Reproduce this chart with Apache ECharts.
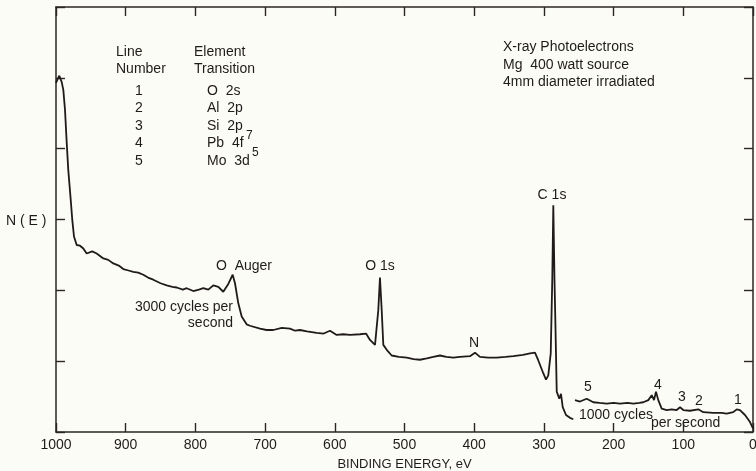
<!DOCTYPE html>
<html><head><meta charset="utf-8">
<script src="https://cdn.jsdelivr.net/npm/echarts@6/dist/echarts.min.js"></script>
<style>html,body{margin:0;padding:0;background:#fcfcf7}#c{width:756px;height:471px}</style>
</head><body><div id="c"></div>
<script>
// Binding energy (eV) and N(E) (arbitrary units, 0-6 frame) — 3000 cycles/s trace
const energyA = [1000,995.3,991.8,989.5,987.1,984.6,982.4,978.9,976.6,974.2,970.3,965.6,960.8,956,948,941.6,932.1,925,917.8,910,903.4,896,889.1,882,874.8,868,860.4,850,841.2,833,826.8,818,812.5,803,795,788.7,781.5,774.3,767.1,760,752.8,746.5,743.2,738.5,733.6,726.5,721.7,707.3,698,688.2,676,664.3,657,649.9,640,626,616,606.9,597.3,588,578.2,563.8,555.2,549.5,542.3,539.9,537.6,535.2,532.7,530.4,525.5,518.4,508,496.8,487,477.8,468,458.7,449.1,440,430,420.4,406,398.9,391.7,380,367.7,355,343.9,330,319.9,312.8,308,300.9,297,293.7,290.2,288,286.5,284.8,283.6,281.6,277.9,275.5,273,268.3,262.6,257.8];
const countsA = [4.93,5.03,4.94,4.83,4.55,4.08,3.70,3.28,2.99,2.76,2.64,2.63,2.59,2.52,2.55,2.52,2.45,2.43,2.38,2.35,2.30,2.28,2.26,2.25,2.22,2.18,2.15,2.10,2.07,2.05,2.04,2.01,2.03,1.99,2.01,2.03,2.01,2.07,2.05,1.98,2.09,2.22,2.10,1.82,1.63,1.52,1.50,1.46,1.44,1.44,1.47,1.46,1.43,1.44,1.42,1.40,1.39,1.43,1.37,1.38,1.37,1.38,1.39,1.30,1.23,1.23,1.72,2.18,1.72,1.23,1.16,1.08,1.06,1.05,1.03,1.02,1.04,1.06,1.08,1.06,1.05,1.06,1.07,1.12,1.06,1.05,1.05,1.06,1.07,1.09,1.11,1.12,1.01,0.83,0.74,0.80,1.11,2.15,3.20,2.15,1.58,0.57,0.47,0.54,0.35,0.24,0.20,0.18];
// 1000 cycles/s trace
const energyB = [255.4,248.2,238.6,229.1,220,209.9,200,190.8,180,171.7,163,157.4,150.2,145.3,142,139.2,135.9,131,123.8,116.6,109.5,104.7,100,90.4,78.5,71.3,57,45,37.7,28.3,23.4,18.7,11.5,4.3,0];
const countsB = [0.45,0.43,0.47,0.42,0.41,0.40,0.41,0.40,0.41,0.40,0.41,0.42,0.45,0.52,0.45,0.57,0.45,0.33,0.31,0.32,0.31,0.35,0.31,0.30,0.32,0.28,0.27,0.27,0.26,0.28,0.32,0.31,0.24,0.14,0.05];
const xTicks = [1000,900,800,700,600,500,400,300,200,100,0];

const traceA = energyA.map((e,i)=>[e,countsA[i]]);
const traceB = energyB.map((e,i)=>[e,countsB[i]]);

const INK = '#1f1b1a';
const F = '14px "Liberation Sans", Arial, sans-serif';
const FS = '12px "Liberation Sans", Arial, sans-serif';
function t(text,x,y,align,font){return {type:'text',style:{text:text,x:x,y:y,align:align||'left',verticalAlign:'middle',font:font||F,fill:INK}};}

const chart = echarts.init(document.getElementById('c'),null,{renderer:'canvas'});
const axisLine = {show:true,onZero:false,lineStyle:{color:'#2a2624',width:1.5}};
const tick = {show:true,inside:true,length:9,lineStyle:{color:'#2a2624',width:1.4}};
chart.setOption({
  backgroundColor:'#fcfcf7',
  animation:false,
  grid:{left:56,right:3,top:7,bottom:39,containLabel:false,outerBoundsMode:'none'},
  xAxis:[
    {type:'value',min:0,max:1000,interval:100,inverse:true,position:'bottom',
     axisLine:axisLine,axisTick:tick,splitLine:{show:false},
     axisLabel:{color:INK,fontSize:14,fontFamily:'"Liberation Sans Narrow", "Liberation Sans", sans-serif',margin:6,
       formatter:function(v){return xTicks.indexOf(v)>=0?String(v):'';}},
     name:'BINDING ENERGY, eV',nameLocation:'middle',nameGap:26,
     nameTextStyle:{color:INK,fontSize:13,fontFamily:'"Liberation Sans", Arial, sans-serif'}},
    {type:'value',min:0,max:1000,interval:100,inverse:true,position:'top',
     axisLine:axisLine,axisTick:tick,axisLabel:{show:false},splitLine:{show:false}}
  ],
  yAxis:[
    {type:'value',min:0,max:6,interval:1,position:'left',axisLine:axisLine,axisTick:tick,
     axisLabel:{show:false},splitLine:{show:false}},
    {type:'value',min:0,max:6,interval:1,position:'right',axisLine:axisLine,axisTick:tick,
     axisLabel:{show:false},splitLine:{show:false}}
  ],
  series:[
    {type:'line',data:traceA,showSymbol:false,smooth:false,lineStyle:{color:INK,width:1.8},silent:true},
    {type:'line',data:traceB,showSymbol:false,smooth:false,lineStyle:{color:INK,width:1.8},silent:true}
  ],
  graphic:[
    t('N ( E )',6,221),
    t('Line',116,52), t('Number',116,69),
    t('1',139,91,'center'), t('2',139,108,'center'), t('3',139,126,'center'), t('4',139,143,'center'), t('5',139,161,'center'),
    t('Element',194,52), t('Transition',194,69),
    t('O  2s',207,91), t('Al  2p',207,108), t('Si  2p',207,126), t('Pb  4f',207,143), t('Mo  3d',207,161),
    t('7',246,136,'left',FS),
    t('5',252,153,'left',FS),
    t('X-ray Photoelectrons',503,47), t('Mg  400 watt source',503,65), t('4mm diameter irradiated',503,82),
    t('O  Auger',216,266), t('3000 cycles per',233,307,'right'), t('second',233,323,'right'),
    t('O 1s',380,266,'center'), t('C 1s',552,195,'center'), t('N',474,343,'center'),
    t('5',588,387,'center'), t('4',658,385,'center'), t('3',682,397,'center'), t('2',699,401,'center'), t('1',738,400,'center'),
    t('1000 cycles',579,415), t('per second',651,423)
  ]
});
</script></body></html>
